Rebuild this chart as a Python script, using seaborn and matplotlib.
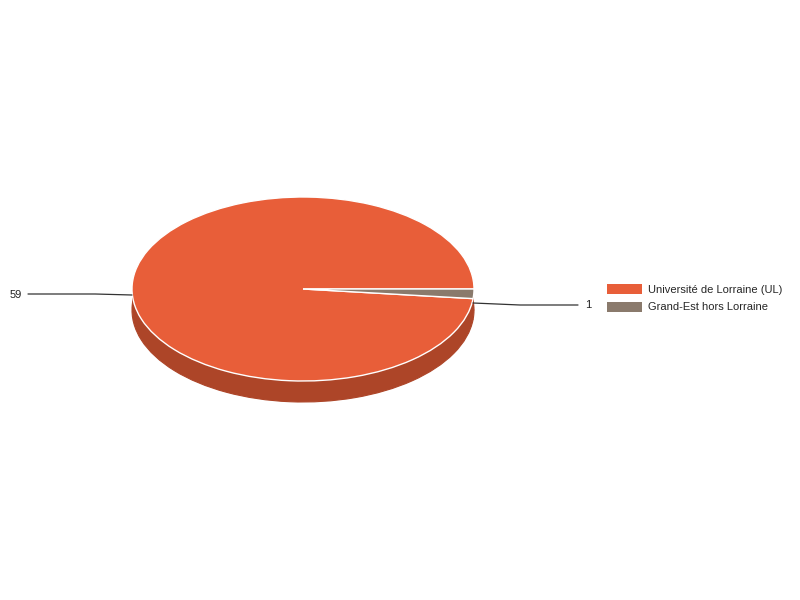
import numpy as np
import matplotlib
matplotlib.use("Agg")
import matplotlib.pyplot as plt
import seaborn as sns
from matplotlib.patches import Patch

# Data
labels = ["Université de Lorraine (UL)", "Grand-Est hors Lorraine"]
values = [59, 1]
colors = ["#E85E39", "#8A7A6C"]
side_color = "#AD4528"

sns.set_theme(style="white")
plt.rcParams['font.family'] = ['Liberation Sans', 'DejaVu Sans']

# pixel geometry of the flattened pie
W, H = 800, 600
cx, cy = 303, 289      # centre in pixels
rx, ry = 171, 92       # ellipse radii in pixels
depth = 21 / ry        # extrusion in y data units
FS = 8.0

fig = plt.figure(figsize=(8, 6), dpi=100)
ax = fig.add_axes([0, 0, 1, 1])

# side (extrusion): bottom pie + band between the two ellipses
ax.pie(values, colors=[side_color, side_color], startangle=0, counterclock=True,
       center=(0, -depth), radius=1,
       wedgeprops=dict(edgecolor=side_color, linewidth=0.8))
ax.fill_between([-1, 1], -depth, 0, color=side_color, linewidth=0)

# top face
wedges, _ = ax.pie(values, colors=colors, startangle=0, counterclock=True,
                   center=(0, 0), radius=1,
                   wedgeprops=dict(edgecolor="white", linewidth=1))

# map data units -> pixels: 1 unit = rx px in x, ry px in y
ax.set_aspect('auto')
ax.set_xlim(-cx / rx, (W - cx) / rx)
ax.set_ylim(-(H - cy) / ry, cy / ry)
ax.axis('off')

# leader lines and value labels
def px(x, y):
    return (x - cx) / rx, (cy - y) / ry

lx = [px(28, 294), px(95, 294), px(132, 295)]
ax.plot([p[0] for p in lx], [p[1] for p in lx], color="#333333", lw=0.9)
t = px(22, 294.5)
ax.text(t[0], t[1], str(values[0]), ha="right", va="center", fontsize=FS, color="#222222")

rxl = [px(473, 303), px(520, 305), px(578, 305)]
ax.plot([p[0] for p in rxl], [p[1] for p in rxl], color="#333333", lw=0.9)
t = px(585, 305.5)
ax.text(t[0], t[1], str(values[1]), ha="left", va="center", fontsize=FS, color="#222222")

# legend
fpx = FS * 100 / 72
handles = [Patch(facecolor=c, edgecolor="none") for c in colors]
fig.legend(handles, labels, loc="upper left", bbox_to_anchor=(607 / W, 1 - 284 / H),
           frameon=False, fontsize=FS, borderpad=0, borderaxespad=0,
           handlelength=35 / fpx, handleheight=11 / fpx, handletextpad=6 / fpx,
           labelspacing=(18 - fpx) / fpx)

fig.savefig("out.png", dpi=100, facecolor="white")
